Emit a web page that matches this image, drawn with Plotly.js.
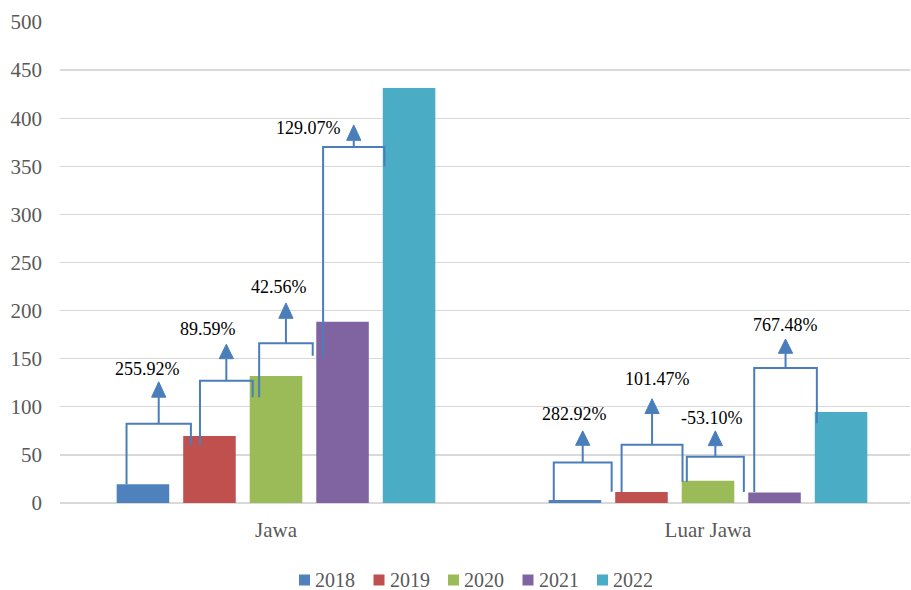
<!DOCTYPE html>
<html>
<head>
<meta charset="utf-8">
<script src="https://cdn.plot.ly/plotly-3.0.1.min.js"></script>
<style>
  html, body { margin: 0; padding: 0; background: #ffffff; }
  #chart { width: 911px; height: 590px; }
</style>
</head>
<body>
<div id="chart"></div>
<script>
// Regions and years
const categories = ['Jawa', 'Luar Jawa'];
const years = ['2018', '2019', '2020', '2021', '2022'];

// Values per region, one entry per year
const jawa = [19.6, 69.7, 132.1, 188.4, 431.5];
const luarJawa = [3.0, 11.5, 23.2, 10.9, 94.6];

// Year-on-year growth labels
const growthJawa = ['255.92%', '89.59%', '42.56%', '129.07%'];
const growthLuar = ['282.92%', '101.47%', '-53.10%', '767.48%'];

const colors = ['#4F81BD', '#C0504D', '#9BBB59', '#8064A2', '#4BACC6'];
const lineColor = '#4A7EBB';
const FONT = 'Liberation Serif';

const BARGAP = 0.23;
const BARGROUPGAP = 0.21;
const slot = (1 - BARGAP) / years.length;
const barCenter = (cat, i) => cat + (i - (years.length - 1) / 2) * slot;

// Bracket layout for each year-to-year connector (x offsets in category units
// relative to the bar centres, heights in axis units)
const bracketLayout = [
  [
    { l: -0.038, lb: 19.5, r: -0.043, rb: 60,  h: 82.5, base: 110, tip: 126, tx: -0.025, ty: 139 },
    { l: -0.022, lb: 60,   r: -0.054, rb: 110, h: 127,  base: 150, tip: 165, tx: -0.043, ty: 180.5 },
    { l: -0.039, lb: 110,  r: -0.069, rb: 153, h: 166,  base: 192, tip: 208, tx: -0.017, ty: 225 },
    { l: -0.045, lb: 151,  r: -0.057, rb: 350, h: 370,  base: 377, tip: 393, tx: -0.105, ty: 390 }
  ],
  [
    { l: -0.049, lb: 2.4,  r: -0.069, rb: 11.7, h: 42,    base: 60,    tip: 75,    tx: -0.018, ty: 92.5 },
    { l: -0.046, lb: 11.4, r: -0.059, rb: 22.1, h: 60.6,  base: 93,    tip: 108.4, tx: 0.013,  ty: 129 },
    { l: -0.049, lb: 22.1, r: -0.071, rb: 11.4, h: 48,    base: 59.6,  tip: 75,    tx: -0.008, ty: 88.4 },
    { l: -0.047, lb: 11.4, r: -0.056, rb: 82.8, h: 140.3, base: 155.6, tip: 170.5, tx: 0,      ty: 185 }
  ]
];
const growthLabels = [growthJawa, growthLuar];
const HALF_HEAD = 0.0165;

const catIndex = categories.map((c, i) => i);
const seriesByYear = years.map((y, i) => [jawa[i], luarJawa[i]]);

const traces = years.map((y, i) => ({
  type: 'bar',
  name: y,
  x: catIndex,
  y: seriesByYear[i],
  marker: { color: colors[i], line: { width: 0 } },
  hoverinfo: 'x+y+name',
  showlegend: false
}));

const shapes = [];
const annotations = [];
bracketLayout.forEach((list, cat) => {
  list.forEach((b, k) => {
    const lx = barCenter(cat, k) + b.l;
    const rx = barCenter(cat, k + 1) + b.r;
    const mx = (lx + rx) / 2;
    shapes.push({
      type: 'path', xref: 'x', yref: 'y',
      path: `M${lx},${b.lb} V${b.h} H${rx} V${b.rb}`,
      line: { color: lineColor, width: 2 }
    });
    shapes.push({
      type: 'line', xref: 'x', yref: 'y',
      x0: mx, x1: mx, y0: b.h, y1: b.base,
      line: { color: lineColor, width: 2 }
    });
    shapes.push({
      type: 'path', xref: 'x', yref: 'y',
      path: `M${mx - HALF_HEAD},${b.base} L${mx + HALF_HEAD},${b.base} L${mx},${b.tip} Z`,
      fillcolor: lineColor,
      line: { color: lineColor, width: 1 }
    });
    annotations.push({
      xref: 'x', yref: 'y', x: mx + b.tx, y: b.ty,
      text: growthLabels[cat][k], showarrow: false,
      xanchor: 'center', yanchor: 'middle',
      font: { family: FONT, size: 18, color: '#000000' }
    });
  });
});

// Legend row under the axis: colour swatch + year label for each series
const PLOT_W = 850, PLOT_H = 481;
const LEGEND_LEFT = 239;   // px from plot left to first swatch
const LEGEND_STEP = 74.5;  // px between entries
const SWATCH = 11;         // px
const LEGEND_Y = -77 / PLOT_H;
years.forEach((y, i) => {
  const sx = LEGEND_LEFT + i * LEGEND_STEP;
  shapes.push({
    type: 'rect', xref: 'paper', yref: 'paper',
    x0: sx / PLOT_W, x1: (sx + SWATCH) / PLOT_W,
    y0: LEGEND_Y - SWATCH / 2 / PLOT_H, y1: LEGEND_Y + SWATCH / 2 / PLOT_H,
    fillcolor: colors[i], line: { width: 0 }
  });
  annotations.push({
    xref: 'paper', yref: 'paper',
    x: (sx + SWATCH + 3) / PLOT_W, y: LEGEND_Y,
    text: y, showarrow: false, xanchor: 'left', yanchor: 'middle',
    font: { family: FONT, size: 20, color: '#595959' }
  });
});

const layout = {
  width: 911, height: 590,
  margin: { l: 60, r: 1, t: 22, b: 87 },
  paper_bgcolor: '#ffffff', plot_bgcolor: '#ffffff',
  barmode: 'group', bargap: BARGAP, bargroupgap: BARGROUPGAP,
  font: { family: FONT, color: '#595959', size: 20 },
  showlegend: false,
  xaxis: {
    type: 'linear', range: [-0.5, 1.4676],
    tickvals: catIndex, ticktext: categories,
    showgrid: false, zeroline: false, showline: false, ticks: '',
    ticklabelstandoff: 12,
    tickfont: { family: FONT, size: 21, color: '#595959' }
  },
  yaxis: {
    range: [0, 500], dtick: 50, tick0: 0,
    showgrid: true, gridcolor: '#D9D9D9', gridwidth: 1.3,
    zeroline: true, zerolinecolor: '#D9D9D9', zerolinewidth: 1.5,
    showline: false, ticks: '',
    ticklabelstandoff: 17,
    tickfont: { family: FONT, size: 21, color: '#595959' }
  },
  shapes: shapes,
  annotations: annotations
};

Plotly.newPlot('chart', traces, layout, { displayModeBar: false, staticPlot: true });
</script>
</body>
</html>
